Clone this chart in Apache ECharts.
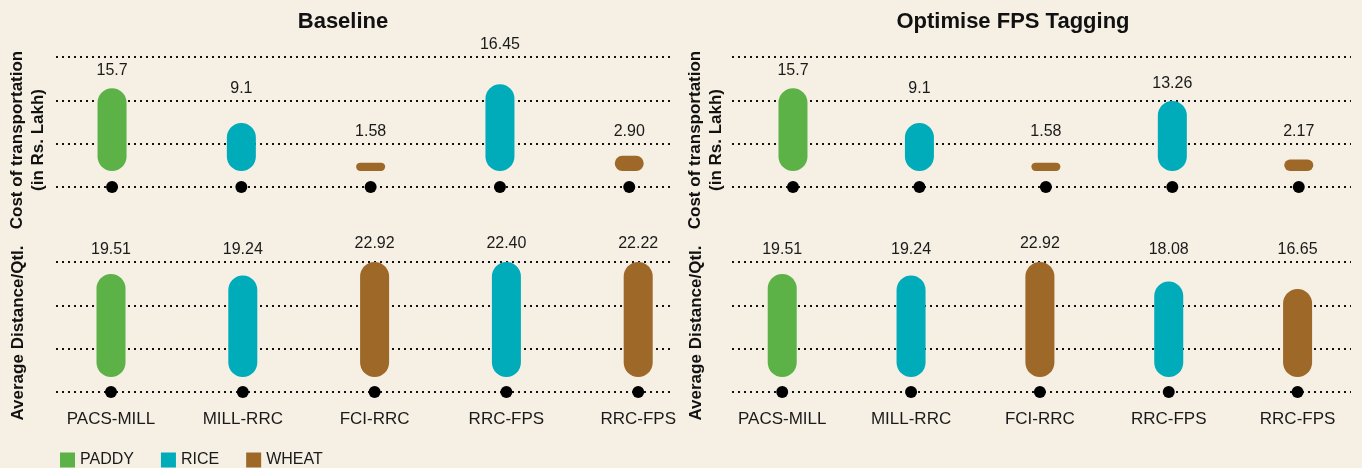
<!DOCTYPE html>
<html><head><meta charset="utf-8">
<script src="https://cdn.jsdelivr.net/npm/echarts@6/dist/echarts.min.js"></script>
<style>html,body{margin:0;padding:0;background:#F5EFE4;} #c{width:1362px;height:468px;}</style>
</head><body><div id="c"></div>
<script>
// ---- data ----
const categories = ['PACS-MILL', 'MILL-RRC', 'FCI-RRC', 'RRC-FPS', 'RRC-FPS'];
const crops = ['PADDY', 'RICE', 'WHEAT', 'RICE', 'WHEAT'];
const cropNames = ['PADDY', 'RICE', 'WHEAT'];
const baselineCost = ['15.7', '9.1', '1.58', '16.45', '2.90'];
const optimiseCost = ['15.7', '9.1', '1.58', '13.26', '2.17'];
const baselineDistance = ['19.51', '19.24', '22.92', '22.40', '22.22'];
const optimiseDistance = ['19.51', '19.24', '22.92', '18.08', '16.65'];
const baselineDots = [0, 0, 0, 0, 0];
const panelTitles = ['Baseline', 'Optimise FPS Tagging'];
const rowTitles = ['Cost of transportation\n(in Rs. Lakh)', 'Average Distance/Qtl.'];

// ---- style / layout ----
const FONT = '"Liberation Sans", Arial, Helvetica, sans-serif';
const BG = '#F5EFE4';
const colors = { PADDY: '#5DB247', RICE: '#00ABBA', WHEAT: '#9D6828' };
const panels = [
  { data: [baselineCost, baselineDistance], bar: [{ left: 47.4, width: 646.5 }, { left: 45.1, width: 659 }], line: { left: 56, width: 618 }, titleX: 343, axisTitleX: [27.5, 18.5] },
  { data: [optimiseCost, optimiseDistance], bar: [{ left: 729.75, width: 648.5 }, { left: 717.8, width: 658 }], line: { left: 732, width: 619 }, titleX: 1013, axisTitleX: [706, 696] }
];
const rows = [
  { top: 57, height: 130, min: -3.04, max: 21.63, titleY: 140 },
  { top: 262, height: 130, min: -2.84, max: 21.78, titleY: 333 }
];

// label placement rule: sit above the bar; if that would cross a dotted line, move it above that line
function makeLabelLayout(row) {
  const lines = [0, 1, 2, 3].map(k => row.top + k * row.height / 3);
  return params => {
    const r = params.rect;
    let cy = r.y - 18;
    for (const g of lines) { if (Math.abs(cy - g) < 11) { cy = g - 12; break; } }
    return { x: r.x + r.width / 2, y: cy, align: 'center', verticalAlign: 'middle' };
  };
}

const grid = [], xAxis = [], yAxis = [], series = [], graphic = [];

panels.forEach((p, pi) => {
  graphic.push({ type: 'text', x: p.titleX, y: 22, style: { text: panelTitles[pi], font: 'bold 22px ' + FONT, fill: '#111', align: 'center', verticalAlign: 'middle' } });
  rows.forEach((r, ri) => {
    graphic.push({ type: 'text', x: p.axisTitleX[ri], y: r.titleY, rotation: Math.PI / 2,
      style: { text: rowTitles[ri], font: 'bold 17px ' + FONT, fill: '#111', align: 'center', verticalAlign: 'middle', lineHeight: 21 } });
    // dotted gridline grid
    const gl = grid.length;
    grid.push({ left: p.line.left, width: p.line.width, top: r.top, height: r.height });
    xAxis.push({ type: 'value', gridIndex: gl, min: 0, max: 1, show: false });
    yAxis.push({ type: 'value', gridIndex: gl, min: 0, max: 3, interval: 1,
      axisLine: { show: false }, axisTick: { show: false }, axisLabel: { show: false },
      splitLine: { show: true, lineStyle: { color: '#111', width: 2, type: [2, 4] } } });
    // bar grid
    const gb = grid.length;
    grid.push({ left: p.bar[ri].left, width: p.bar[ri].width, top: r.top, height: r.height });
    xAxis.push({ type: 'category', gridIndex: gb, data: categories,
      axisLine: { show: false }, axisTick: { show: false },
      axisLabel: { show: ri === 1, margin: 19, fontSize: 17, fontFamily: FONT, color: '#1a1a1a', interval: 0 } });
    const bx = xAxis.length - 1;
    yAxis.push({ type: 'value', gridIndex: gb, min: r.min, max: r.max, show: false, splitLine: { show: false } });
    const byA = yAxis.length - 1;
    yAxis.push({ type: 'value', gridIndex: gb, min: 0, max: 3, show: false, splitLine: { show: false } });
    const byB = yAxis.length - 1;
    const vals = p.data[ri];
    const layout = makeLabelLayout(r);
    cropNames.forEach(c => {
      series.push({
        type: 'bar', name: c, xAxisIndex: bx, yAxisIndex: byA,
        data: vals.map((v, i) => crops[i] === c ? v : '-'),
        barWidth: 29, barGap: '-100%',
        itemStyle: { color: colors[c], borderRadius: 14.5 },
        label: { show: true, position: 'top', distance: 10, fontSize: 16, fontFamily: FONT, color: '#1a1a1a', formatter: q => q.data },
        labelLayout: layout,
        z: 3
      });
    });
    series.push({ type: 'scatter', xAxisIndex: bx, yAxisIndex: byB, data: baselineDots,
      symbolSize: 12, itemStyle: { color: '#000', opacity: 1 }, z: 4, silent: true, clip: false });
  });
});

const chart = echarts.init(document.getElementById('c'), null, { renderer: 'canvas' });
chart.setOption({
  backgroundColor: BG,
  animation: false,
  grid, xAxis, yAxis, series, graphic,
  legend: {
    data: cropNames, left: 55, top: 447, itemWidth: 15, itemHeight: 15, itemGap: 27, icon: 'rect',
    selectedMode: false, textStyle: { fontSize: 16, fontFamily: FONT, color: '#1a1a1a' }
  }
});
</script></body></html>
